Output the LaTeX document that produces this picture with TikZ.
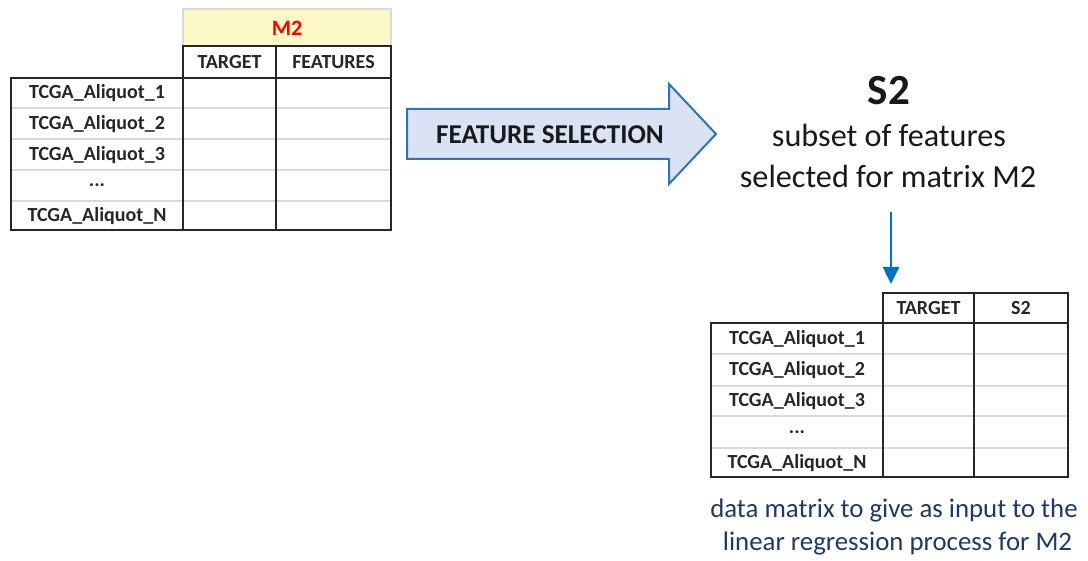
\documentclass[tikz,border=0pt]{standalone}
\usepackage{fontspec}
\setmainfont{Carlito}
\usetikzlibrary{arrows.meta}
\definecolor{darkline}{HTML}{262626}
\definecolor{grayline}{HTML}{D9D9D9}
\definecolor{hdrfill}{HTML}{FCF9C6}
\definecolor{arrfill}{HTML}{DAE3F3}
\definecolor{arrdraw}{HTML}{2E75B6}
\definecolor{bluearr}{HTML}{0070C0}
\definecolor{navytext}{HTML}{1F3864}
\definecolor{redtext}{HTML}{FF0000}
\tikzset{
  darkrule/.style={draw=darkline, line width=1.3pt},
  grayrule/.style={draw=grayline, line width=1.5pt},
  celltext/.style={font=\fontsize{20}{22}\selectfont\bfseries, text=darkline, inner sep=0pt, anchor=center},
  bigtext/.style={font=\fontsize{32.2}{36}\selectfont, text=black!90, inner sep=0pt, anchor=base},
  notetext/.style={font=\fontsize{26.8}{30}\selectfont, text=navytext, inner sep=0pt, anchor=base},
}
\begin{document}
\begin{tikzpicture}[x=1pt, y=-1pt]
\useasboundingbox (0,0) rectangle (1088,561);

% ---------- Table 1 ----------
\fill[hdrfill] (183,9) rectangle (391,46);
\draw[draw=grayline, line width=1.3pt] (183,9) rectangle (391,46);
\foreach \yy in {108,139,170,201} \draw[grayrule] (11,\yy) -- (391,\yy);
\draw[darkrule] (183,46) rectangle (391,230);
\draw[darkrule] (11,78) rectangle (391,230);
\draw[darkrule] (183,78) -- (183,230);
\draw[darkrule] (276,46) -- (276,230);
\draw[darkrule] (183,78) -- (391,78);

\node[celltext, text=redtext, font=\fontsize{22}{24}\selectfont\bfseries] (m2) at (287,28) {M2};
\node[celltext] (t1target) at (229.5,62) {TARGET};
\node[celltext] (t1feat) at (333.5,62) {FEATURES};
\node[celltext] (t1r1) at (97,93) {TCGA\_Aliquot\_1};
\node[celltext] (t1r2) at (97,124) {TCGA\_Aliquot\_2};
\node[celltext] (t1r3) at (97,155) {TCGA\_Aliquot\_3};
\node[celltext] (t1r4) at (97,185) {...};
\node[celltext] (t1r5) at (97,216) {TCGA\_Aliquot\_N};

% ---------- Feature selection arrow ----------
\draw[fill=arrfill, draw=arrdraw, line width=2pt, line join=miter]
  (407,109) -- (669,109) -- (669,84) -- (716,134) -- (669,184) -- (669,159) -- (407,159) -- cycle;
\node[celltext, text=black!90, font=\fontsize{27.2}{30}\selectfont\bfseries] (fs) at (550,135) {FEATURE SELECTION};

% ---------- S2 text ----------
\node[bigtext, font=\fontsize{43}{46}\selectfont\bfseries] (s2) at (889,105) {S2};
\node[bigtext] (sub1) at (889,147) {subset of features};
\node[bigtext] (sub2) at (888,188) {selected for matrix M2};

\coordinate (arrS) at (891,212);
\coordinate (arrE) at (891,284);
\draw[draw=bluearr, line width=2.6pt, -{Triangle[width=16pt,length=17pt]}] (arrS) -- (arrE);

% ---------- Table 2 ----------
\foreach \yy in {354,386,416,448} \draw[grayrule] (711,\yy) -- (1068,\yy);
\draw[darkrule] (883,293) rectangle (1068,477);
\draw[darkrule] (711,323) rectangle (1068,477);
\draw[darkrule] (883,323) -- (883,477);
\draw[darkrule] (974,293) -- (974,477);
\draw[darkrule] (883,323) -- (1068,323);

\node[celltext] (t2target) at (928.5,308) {TARGET};
\node[celltext] (t2s2) at (1021,308) {S2};
\node[celltext] (t2r1) at (797,339) {TCGA\_Aliquot\_1};
\node[celltext] (t2r2) at (797,370) {TCGA\_Aliquot\_2};
\node[celltext] (t2r3) at (797,401) {TCGA\_Aliquot\_3};
\node[celltext] (t2r4) at (797,432) {...};
\node[celltext] (t2r5) at (797,463) {TCGA\_Aliquot\_N};

% ---------- Note ----------
\node[notetext] (note1) at (894,517) {data matrix to give as input to the};
\node[notetext] (note2) at (897.5,550) {linear regression process for M2};
\end{tikzpicture}
\end{document}
